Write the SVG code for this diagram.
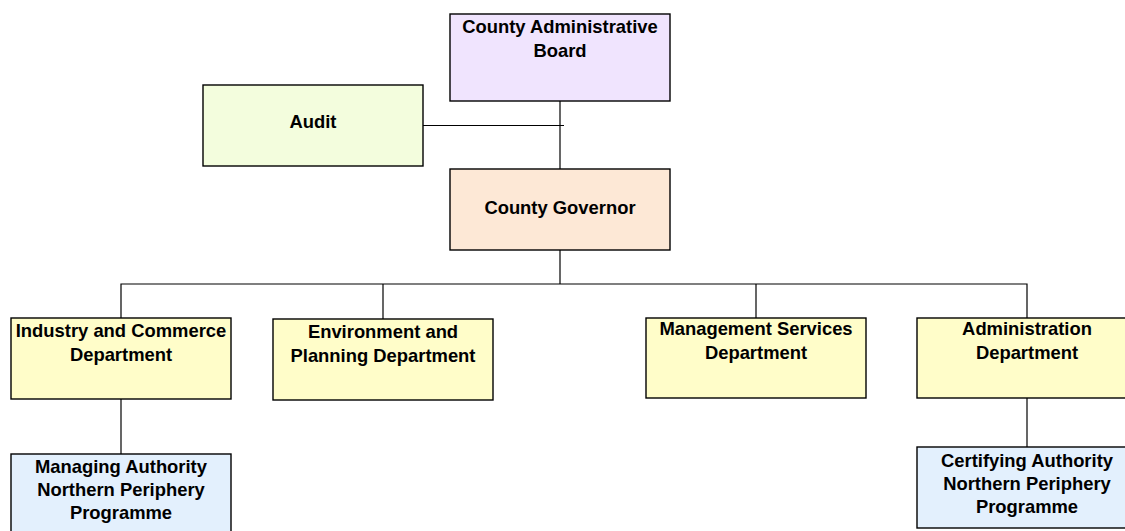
<svg xmlns="http://www.w3.org/2000/svg" width="1125" height="531" viewBox="0 0 1125 531">
<style>
.box{stroke:#000;stroke-width:1.4}
.t{font-family:"Liberation Sans",Arial,sans-serif;font-weight:bold;font-size:18.4px;fill:#000;text-anchor:middle}
.c{stroke:#000;stroke-width:1.2;fill:none}
.board{fill:#F0E4FE}
.audit{fill:#F3FDDD}
.gov{fill:#FDE8D6}
.dept{fill:#FFFDC9}
.prog{fill:#E3F0FD}
</style>
<rect width="1125" height="531" fill="#fff"/>
<g id="connectors">
<path class="c" d="M560 101V169"/>
<path class="c" d="M423 125.5H564"/>
<path class="c" d="M560 250V284"/>
<path class="c" d="M121 318V284H1027V318"/>
<path class="c" d="M383 284V319"/>
<path class="c" d="M756 284V318"/>
<path class="c" d="M121 399V454"/>
<path class="c" d="M1027 398V447"/>
</g>
<g id="board">
<rect class="box board" x="450" y="14" width="220" height="87"/>
<text class="t" x="560" y="33">County Administrative</text>
<text class="t" x="560" y="57">Board</text>
</g>
<g id="audit">
<rect class="box audit" x="203" y="85" width="220" height="81"/>
<text class="t" x="313" y="128">Audit</text>
</g>
<g id="governor">
<rect class="box gov" x="450" y="169" width="220" height="81"/>
<text class="t" x="560" y="213.5">County Governor</text>
</g>
<g id="industry">
<rect class="box dept" x="11" y="318" width="220" height="81"/>
<text class="t" x="121" y="337">Industry and Commerce</text>
<text class="t" x="121" y="361">Department</text>
</g>
<g id="environment">
<rect class="box dept" x="273" y="319" width="220" height="81"/>
<text class="t" x="383" y="338">Environment and</text>
<text class="t" x="383" y="362">Planning Department</text>
</g>
<g id="management">
<rect class="box dept" x="646" y="318" width="220" height="80"/>
<text class="t" x="756" y="335">Management Services</text>
<text class="t" x="756" y="359">Department</text>
</g>
<g id="administration">
<rect class="box dept" x="917" y="318" width="220" height="80"/>
<text class="t" x="1027" y="335">Administration</text>
<text class="t" x="1027" y="359">Department</text>
</g>
<g id="managing">
<rect class="box prog" x="11" y="454" width="220" height="90"/>
<text class="t" x="121" y="473">Managing Authority</text>
<text class="t" x="121" y="496">Northern Periphery</text>
<text class="t" x="121" y="519">Programme</text>
</g>
<g id="certifying">
<rect class="box prog" x="917" y="447" width="220" height="81"/>
<text class="t" x="1027" y="467">Certifying Authority</text>
<text class="t" x="1027" y="490">Northern Periphery</text>
<text class="t" x="1027" y="513">Programme</text>
</g>
</svg>
